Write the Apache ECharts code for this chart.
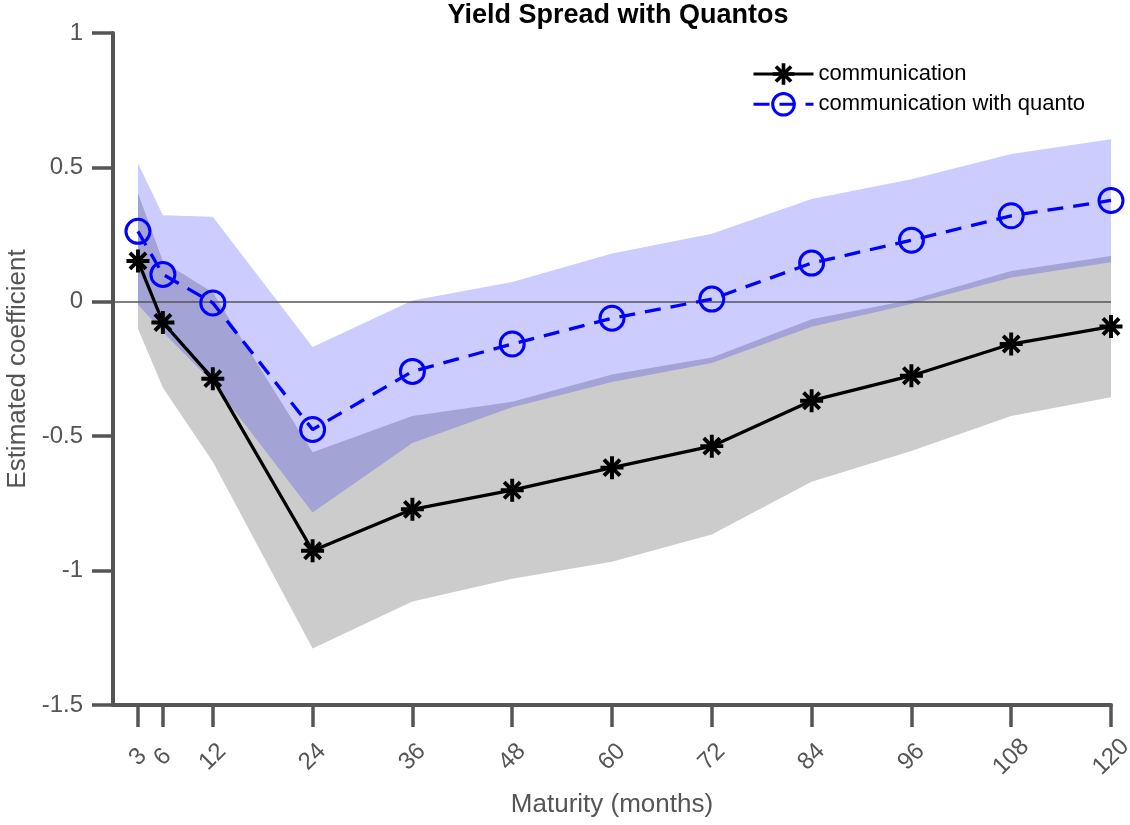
<!DOCTYPE html>
<html>
<head>
<meta charset="utf-8">
<script src="https://cdn.jsdelivr.net/npm/echarts@6/dist/echarts.min.js"></script>
<style>
html,body{margin:0;padding:0;background:#fff;}
#chart{width:1130px;height:825px;}
</style>
</head>
<body>
<div id="chart"></div>
<script>
// ---- data ----
const months = [3, 6, 12, 24, 36, 48, 60, 72, 84, 96, 108, 120];
const comm = [0.152, -0.077, -0.286, -0.926, -0.772, -0.701, -0.617, -0.537, -0.368, -0.275, -0.157, -0.092];
const commLo = [-0.10, -0.32, -0.595, -1.29, -1.115, -1.03, -0.967, -0.866, -0.669, -0.555, -0.425, -0.355];
const commHi = [0.405, 0.15, 0.035, -0.56, -0.425, -0.372, -0.27, -0.207, -0.065, 0.008, 0.115, 0.17];
const quanto = [0.262, 0.102, -0.004, -0.475, -0.259, -0.157, -0.061, 0.01, 0.144, 0.229, 0.32, 0.377];
const quantoLo = [-0.01, -0.112, -0.30, -0.784, -0.525, -0.392, -0.298, -0.228, -0.093, -0.008, 0.09, 0.147];
const quantoHi = [0.515, 0.322, 0.316, -0.168, 0.005, 0.074, 0.18, 0.253, 0.382, 0.456, 0.55, 0.605];
const yTicks = [-1.5, -1, -0.5, 0, 0.5, 1];
const seriesNames = ['communication', 'communication with quanto'];

const FONT = '"Liberation Sans", Arial, Helvetica, sans-serif';
const AX = '#555555';

const starPath = 'path://M-10 -1.7 L10 -1.7 L10 1.7 L-10 1.7 Z ' +
  'M-1.7 -10 L1.7 -10 L1.7 10 L-1.7 10 Z ' +
  'M-5.8 -8.2 L8.2 5.8 L5.8 8.2 L-8.2 -5.8 Z ' +
  'M8.2 -5.8 L-5.8 8.2 L-8.2 5.8 L5.8 -8.2 Z';

function bandRender(lo, hi, fill) {
  return function (params, api) {
    if (params.dataIndex !== 0) return null;
    const pts = [];
    for (let i = 0; i < months.length; i++) pts.push(api.coord([months[i], hi[i]]));
    for (let i = months.length - 1; i >= 0; i--) pts.push(api.coord([months[i], lo[i]]));
    return { type: 'polygon', shape: { points: pts }, style: { fill: fill } };
  };
}

const chart = echarts.init(document.getElementById('chart'), null, { renderer: 'canvas' });
chart.setOption({
  animation: false,
  backgroundColor: '#ffffff',
  textStyle: { fontFamily: FONT },
  title: {
    text: 'Yield Spread with Quantos',
    left: 618, top: 2, textAlign: 'center', padding: 0,
    textStyle: { fontFamily: FONT, fontSize: 27, fontWeight: 'bold', color: '#000' }
  },
  legend: {
    orient: 'vertical', left: 752, top: 63, padding: 0,
    itemWidth: 60, itemHeight: 27, itemGap: 7,
    lineStyle: { width: 3 },
    data: [
      { name: seriesNames[0] },
      { name: seriesNames[1], itemStyle: { borderWidth: 3 } }
    ],
    textStyle: { fontFamily: FONT, fontSize: 22, color: '#000' }
  },
  grid: { left: 113, right: 19, top: 33, bottom: 120, containLabel: false, outerBoundsMode: 'none' },
  xAxis: {
    type: 'value', min: 0, max: 120,
    name: 'Maturity (months)', nameLocation: 'middle', nameGap: 87,
    nameTextStyle: { fontFamily: FONT, fontSize: 26, color: AX },
    axisLine: { onZero: false, lineStyle: { color: AX, width: 4 } },
    axisTick: { customValues: months, length: 22, lineStyle: { color: AX, width: 3.5 } },
    axisLabel: {
      customValues: months, rotate: 45, align: 'center', verticalAlign: 'middle',
      margin: 52, fontFamily: FONT, fontSize: 24, color: AX
    },
    splitLine: { show: false }
  },
  yAxis: {
    type: 'value', min: -1.5, max: 1, interval: 0.5,
    name: 'Estimated coefficient', nameLocation: 'middle', nameGap: 78,
    nameTextStyle: { fontFamily: FONT, fontSize: 26, color: AX },
    axisLine: { show: true, lineStyle: { color: AX, width: 4 } },
    axisTick: { show: true, length: 21, lineStyle: { color: AX, width: 3.5 } },
    axisLabel: { margin: 30, fontFamily: FONT, fontSize: 24, color: AX },
    splitLine: { show: false }
  },
  series: [
    {
      type: 'custom', name: 'commBand', silent: true,
      data: months.map((m, i) => [m, commLo[i], commHi[i]]),
      encode: { x: 0, y: [1, 2] },
      renderItem: bandRender(commLo, commHi, 'rgba(0,0,0,0.2)')
    },
    {
      type: 'custom', name: 'quantoBand', silent: true,
      data: months.map((m, i) => [m, quantoLo[i], quantoHi[i]]),
      encode: { x: 0, y: [1, 2] },
      renderItem: bandRender(quantoLo, quantoHi, 'rgba(0,0,255,0.2)'),
      markLine: {
        silent: true, symbol: 'none', label: { show: false },
        lineStyle: { color: '#555', width: 1.5, type: 'solid' },
        data: [{ yAxis: 0 }]
      }
    },
    {
      type: 'line', name: seriesNames[0],
      data: months.map((m, i) => [m, comm[i]]),
      symbol: starPath, symbolSize: 23,
      itemStyle: { color: '#000' },
      lineStyle: { color: '#000', width: 3.3 },
      z: 5
    },
    {
      type: 'line', name: seriesNames[1],
      data: months.map((m, i) => [m, quanto[i]]),
      symbol: 'circle', symbolSize: 24,
      itemStyle: { color: 'rgba(0,0,0,0)', borderColor: '#0000ff', borderWidth: 3 },
      lineStyle: { color: '#0000ff', width: 3.3, type: [16, 10] },
      z: 6
    }
  ]
});
</script>
</body>
</html>
